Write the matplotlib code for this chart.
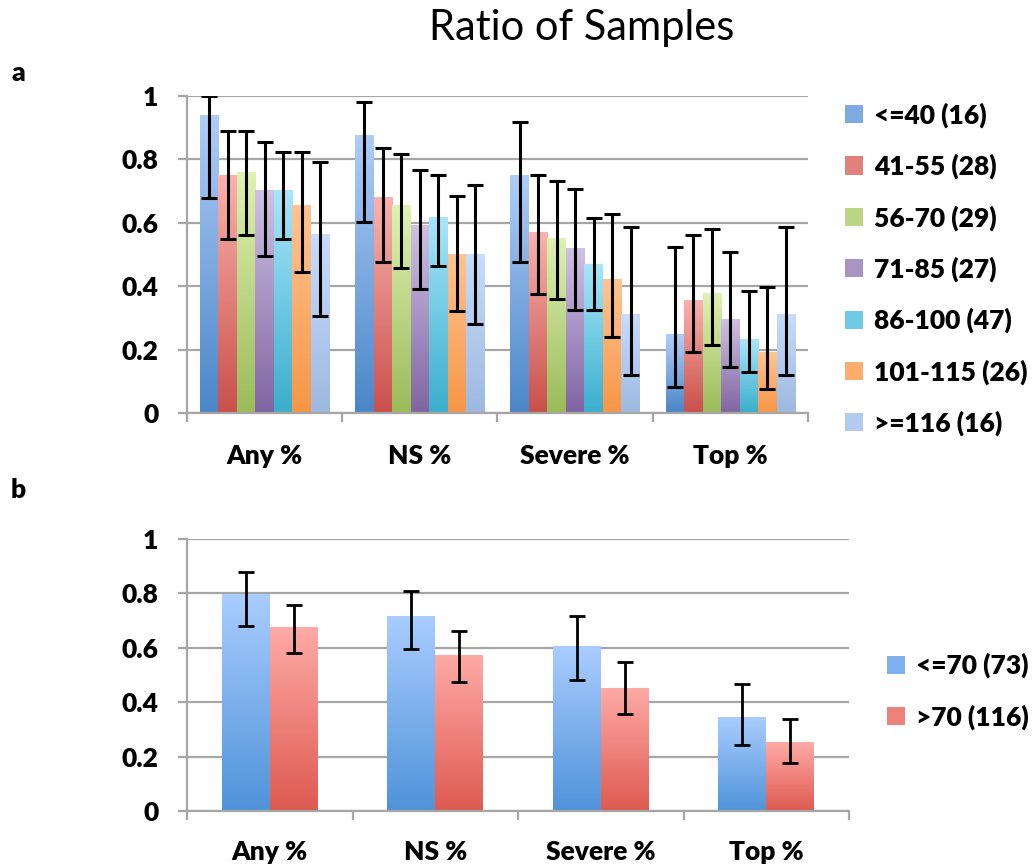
import numpy as np
import matplotlib
matplotlib.use("Agg")
import matplotlib.pyplot as plt
from matplotlib.colors import LinearSegmentedColormap, to_rgb
from matplotlib.ticker import FuncFormatter, FixedLocator
from matplotlib.patches import Patch

plt.rcParams['font.family'] = ['Lato', 'DejaVu Sans']

# ---------------- data ----------------
categories = ["Any %", "NS %", "Severe %", "Top %"]

groups_a = ["<=40 (16)", "41-55 (28)", "56-70 (29)", "71-85 (27)",
            "86-100 (47)", "101-115 (26)", ">=116 (16)"]
# values per group (rows) across categories (columns)
values_a = [
    [0.94, 0.877, 0.751, 0.249],
    [0.751, 0.681, 0.571, 0.356],
    [0.760, 0.656, 0.552, 0.379],
    [0.703, 0.593, 0.520, 0.297],
    [0.703, 0.618, 0.470, 0.233],
    [0.656, 0.502, 0.423, 0.192],
    [0.565, 0.502, 0.312, 0.312],
]
lower_a = [
    [0.677, 0.604, 0.476, 0.083],
    [0.549, 0.476, 0.374, 0.192],
    [0.561, 0.457, 0.361, 0.214],
    [0.496, 0.391, 0.325, 0.145],
    [0.549, 0.464, 0.325, 0.129],
    [0.445, 0.321, 0.240, 0.076],
    [0.306, 0.282, 0.121, 0.121],
]
upper_a = [
    [1.000, 0.980, 0.919, 0.525],
    [0.890, 0.835, 0.750, 0.561],
    [0.890, 0.817, 0.732, 0.579],
    [0.854, 0.768, 0.708, 0.507],
    [0.823, 0.750, 0.616, 0.385],
    [0.823, 0.683, 0.628, 0.397],
    [0.793, 0.719, 0.586, 0.586],
]

groups_b = ["<=70 (73)", ">70 (116)"]
values_b = [
    [0.799, 0.717, 0.605, 0.345],
    [0.676, 0.573, 0.451, 0.253],
]
lower_b = [
    [0.682, 0.595, 0.481, 0.241],
    [0.580, 0.473, 0.357, 0.178],
]
upper_b = [
    [0.878, 0.809, 0.717, 0.468],
    [0.758, 0.660, 0.546, 0.340],
]

yticks = [0, 0.2, 0.4, 0.6, 0.8, 1]

# gradient colours (top, bottom)
colors_a = [("#b0cdf8", "#4a86c8"), ("#fab2ae", "#c9504a"), ("#def2b2", "#9bbb59"),
            ("#cfc1e4", "#8064a2"), ("#a8e6fa", "#3aaecc"), ("#fec493", "#f79646"),
            ("#c8dcfb", "#9db9e1")]
colors_b = [("#aacdff", "#4f93d9"), ("#ffaaa6", "#de5a50")]

GRID = "#a6a6a6"
TICKFS = 19
WEIGHT = "heavy"


def gradient_bars(ax, bars, top, bottom):
    cmap = LinearSegmentedColormap.from_list("g", [bottom, top])
    grad = np.linspace(0, 1, 256).reshape(-1, 1)
    for b in bars:
        x, y, w, h = b.get_x(), b.get_y(), b.get_width(), b.get_height()
        b.set_facecolor("none")
        im = ax.imshow(grad, extent=[x, x + w, y, y + h], origin="lower",
                       cmap=cmap, aspect="auto", zorder=2, interpolation="bilinear")
        im.set_clip_path(b)


def style_axes(ax, label_pad):
    ax.set_xlim(-0.5, len(categories) - 0.5)
    ax.set_ylim(0, 1)
    ax.set_yticks(yticks)
    ax.yaxis.set_major_formatter(FuncFormatter(lambda v, p: "%g" % v))
    ax.yaxis.grid(True, color=GRID, linewidth=1.6)
    ax.set_axisbelow(True)
    for s in ["top", "right"]:
        ax.spines[s].set_visible(False)
    for s in ["left", "bottom"]:
        ax.spines[s].set_color(GRID)
        ax.spines[s].set_linewidth(1.6)
    ax.tick_params(axis="y", length=6.5, width=1.6, color=GRID, pad=14,
                   labelsize=TICKFS)
    for lab in ax.get_yticklabels():
        lab.set_fontweight(WEIGHT)
    ax.xaxis.set_major_locator(FixedLocator(np.arange(len(categories) + 1) - 0.5))
    ax.xaxis.set_minor_locator(FixedLocator(np.arange(len(categories))))
    ax.set_xticklabels([], minor=False)
    ax.set_xticklabels(categories, minor=True, fontweight=WEIGHT, fontsize=TICKFS)
    ax.tick_params(axis="x", which="major", length=6.5, width=1.6, color=GRID)
    ax.tick_params(axis="x", which="minor", length=0, pad=label_pad)


def mix(c1, c2):
    a, b = np.array(to_rgb(c1)), np.array(to_rgb(c2))
    return tuple((a + b) / 2)


fig = plt.figure(figsize=(10.32, 8.67), dpi=100)

# ---------------- panel a ----------------
ax1 = fig.add_axes([0.1812, 0.5236, 0.6017, 0.3657])
n = len(groups_a)
w = 0.119
x = np.arange(len(categories))
for i in range(n):
    pos = x + (i - (n - 1) / 2) * w
    bars = ax1.bar(pos, values_a[i], width=w, linewidth=0, label=groups_a[i])
    gradient_bars(ax1, bars, *colors_a[i])
    v = np.array(values_a[i])
    err = [v - np.array(lower_a[i]), np.array(upper_a[i]) - v]
    ax1.errorbar(pos, v, yerr=err, fmt="none", ecolor="black", elinewidth=2.2,
                 capsize=5.5, capthick=2.2, zorder=5)
style_axes(ax1, 22)

h_a = [Patch(facecolor=mix(*c), edgecolor="none") for c in colors_a]
fig.legend(h_a, groups_a, loc="upper left", bbox_to_anchor=(0.819, 0.882),
           frameon=False, borderpad=0, borderaxespad=0,
           handlelength=0.68, handleheight=0.68, handletextpad=0.4,
           labelspacing=0.98, prop={"weight": WEIGHT, "size": TICKFS})

# ---------------- panel b ----------------
ax2 = fig.add_axes([0.1812, 0.0646, 0.6415, 0.3137])
n = len(groups_b)
w = 0.29
for i in range(n):
    pos = x + (i - (n - 1) / 2) * w
    bars = ax2.bar(pos, values_b[i], width=w, linewidth=0, label=groups_b[i])
    gradient_bars(ax2, bars, *colors_b[i])
    v = np.array(values_b[i])
    err = [v - np.array(lower_b[i]), np.array(upper_b[i]) - v]
    ax2.errorbar(pos, v, yerr=err, fmt="none", ecolor="black", elinewidth=2.0,
                 capsize=5.5, capthick=2.0, zorder=5)
style_axes(ax2, 21)

h_b = [Patch(facecolor=mix(*c), edgecolor="none") for c in colors_b]
fig.legend(h_b, groups_b, loc="upper left", bbox_to_anchor=(0.8595, 0.247),
           frameon=False, borderpad=0, borderaxespad=0,
           handlelength=0.68, handleheight=0.68, handletextpad=0.4,
           labelspacing=0.98, prop={"weight": WEIGHT, "size": TICKFS})

# ---------------- titles ----------------
fig.text(0.564, 0.968, "Ratio of Samples", ha="center", va="center", fontsize=30)
fig.text(0.018, 0.916, "a", ha="center", va="center", fontsize=19, fontweight=WEIGHT)
fig.text(0.018, 0.435, "b", ha="center", va="center", fontsize=19, fontweight=WEIGHT)

fig.savefig("out.png", dpi=100)
